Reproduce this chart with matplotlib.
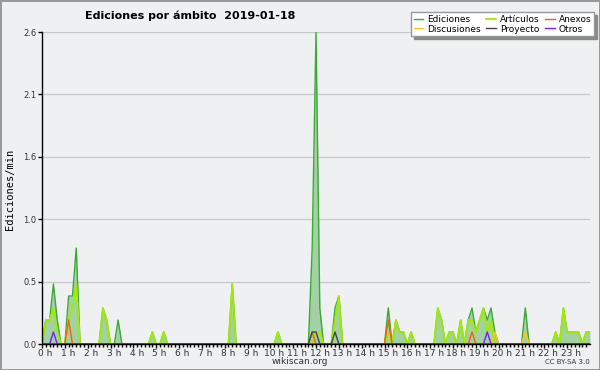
import numpy as np
import matplotlib
matplotlib.use("Agg")
from matplotlib import pyplot as plt
from matplotlib import transforms

# Ediciones/min in 10-minute slots, keyed by end of slot (HH:MM); missing slots are 0
ediciones = {
    "00:10": 0.2, "00:20": 0.2, "00:30": 0.5, "00:40": 0.2,
    "01:10": 0.4, "01:20": 0.4, "01:30": 0.8,
    "02:40": 0.3, "02:50": 0.2, "03:20": 0.2,
    "04:50": 0.1, "05:20": 0.1, "08:20": 0.5, "10:20": 0.1,
    "11:50": 0.8, "12:00": 2.6, "12:10": 0.3,
    "12:50": 0.3, "13:00": 0.4,
    "15:10": 0.3, "15:30": 0.2, "15:40": 0.1, "15:50": 0.1, "16:10": 0.1,
    "17:20": 0.3, "17:30": 0.2, "17:50": 0.1, "18:00": 0.1, "18:20": 0.2,
    "18:40": 0.2, "18:50": 0.3, "19:00": 0.1, "19:10": 0.2, "19:20": 0.3,
    "19:30": 0.2, "19:40": 0.3, "19:50": 0.1,
    "21:10": 0.3, "22:30": 0.1,
    "22:50": 0.3, "23:00": 0.1, "23:10": 0.1, "23:20": 0.1, "23:30": 0.1,
    "23:50": 0.1, "24:00": 0.1,
}
articulos = {
    "00:10": 0.2, "00:20": 0.2, "00:30": 0.3, "00:40": 0.1,
    "01:10": 0.2, "01:20": 0.3, "01:30": 0.5,
    "02:40": 0.3, "02:50": 0.2,
    "04:50": 0.1, "05:20": 0.1, "08:20": 0.5, "10:20": 0.1,
    "12:00": 0.1, "12:10": 0.1, "12:50": 0.2, "13:00": 0.4,
    "15:10": 0.1, "15:30": 0.2, "15:40": 0.1, "15:50": 0.1, "16:10": 0.1,
    "17:20": 0.3, "17:30": 0.2, "17:50": 0.1, "18:00": 0.1, "18:20": 0.2,
    "18:40": 0.2, "18:50": 0.2, "19:00": 0.1, "19:10": 0.2, "19:20": 0.3,
    "19:30": 0.1, "19:40": 0.2,
    "22:30": 0.1, "22:50": 0.3, "23:00": 0.1, "23:10": 0.1, "23:20": 0.1,
    "23:30": 0.1, "23:50": 0.1, "24:00": 0.1,
}
anexos = {"01:10": 0.2, "11:50": 0.1, "15:10": 0.2, "18:50": 0.1}
discusiones = {"19:50": 0.1, "21:10": 0.1}
proyecto = {"11:50": 0.1, "12:00": 0.1, "12:50": 0.1}
otros = {"00:30": 0.1, "19:30": 0.1}

hour_labels = ["%d h" % h for h in range(24)]
y_ticks = [0.0, 0.52, 1.04, 1.56, 2.08, 2.6]
y_labels = ["0.0", "0.5", "1.0", "1.6", "2.1", "2.6"]

slots = np.arange(0, 145)
x = slots / 6.0


def expand(d):
    y = np.zeros(len(slots))
    for k, v in d.items():
        h, m = k.split(":")
        y[(int(h) * 60 + int(m)) // 10] = v
    return y


bg = "#eff0f1"
fig = plt.figure(figsize=(6, 3.7), dpi=100, facecolor=bg)
fig.patch.set_edgecolor("#999999")
fig.patch.set_linewidth(2)
ax = fig.add_axes([42 / 600, 1 - 344 / 370, 548 / 600, 312 / 370])
ax.set_facecolor(bg)

ed = expand(ediciones)
ax.fill_between(x, ed, color="#a2d2a2", lw=0, zorder=2)
l_ed, = ax.plot(x, ed, color="#3aaa35", lw=1, zorder=3, label="Ediciones")
l_art, = ax.plot(x, expand(articulos), color="#a4ea00", lw=1.3, zorder=4, label="Artículos")
l_anx, = ax.plot(x, expand(anexos), color="#ff5a10", lw=1, zorder=5, label="Anexos")
l_dis, = ax.plot(x, expand(discusiones), color="#ffc61a", lw=1, zorder=5, label="Discusiones")
l_pro, = ax.plot(x, expand(proyecto), color="#444444", lw=1, zorder=5, label="Proyecto")
l_otr, = ax.plot(x, expand(otros), color="#7a1aff", lw=1, zorder=5, label="Otros")

ax.set_xlim(0, 24)
ax.set_ylim(0, 2.6)
for s in ["top", "right"]:
    ax.spines[s].set_visible(False)
for s in ["left", "bottom"]:
    ax.spines[s].set_zorder(6)
    ax.spines[s].set_linewidth(1)

ax.set_yticks(y_ticks)
ax.set_yticklabels(y_labels)
ax.grid(axis="y", color="#c8c8c8", lw=0.9, zorder=1)
ax.tick_params(axis="y", length=3, width=1, pad=1, labelsize=6, labelcolor="#333333")

ax.set_xticks(range(24))
ax.set_xticklabels(hour_labels)
ax.set_xticks(np.arange(0, 24, 1 / 6.0), minor=True)
ax.tick_params(axis="x", which="major", length=3, width=1, pad=0.5, labelsize=6.5,
               labelcolor="#333333")
ax.tick_params(axis="x", which="minor", length=2.5, width=1)
offset = transforms.ScaledTranslation(3.5 / 100, 0, fig.dpi_scale_trans)
for lab in ax.get_xticklabels():
    lab.set_transform(lab.get_transform() + offset)

fig.text(10 / 600, 1 - 189 / 370, "Ediciones/min", rotation=90, ha="center", va="center",
         family="DejaVu Sans Mono", fontsize=7.5)
fig.text(85 / 600, 1 - 16 / 370, "Ediciones por ámbito  2019-01-18", ha="left",
         va="center", fontsize=8, weight="bold")
fig.text(300 / 600, 1 - 361 / 370, "wikiscan.org", ha="center", va="center",
         fontsize=6.5, color="#333333")
fig.text(590 / 600, 1 - 362 / 370, "CC BY-SA 3.0", ha="right", va="center",
         fontsize=5, color="#333333")

handles = [l_ed, l_dis, l_art, l_pro, l_anx, l_otr]
leg = fig.legend(handles=handles, labels=[h.get_label() for h in handles], ncol=3,
                 loc="upper right", bbox_to_anchor=(594 / 600, 1 - 12 / 370),
                 fontsize=6.5, frameon=True, fancybox=False, framealpha=1,
                 edgecolor="#999999", facecolor="white",
                 shadow={"color": "#8a8a8a", "alpha": 1},
                 handlelength=1.1, handletextpad=0.45, columnspacing=0.55,
                 labelspacing=0.1, borderpad=0.3, borderaxespad=0)
leg.get_frame().set_linewidth(1)

fig.savefig("out.png", dpi=100, facecolor=bg, edgecolor=fig.patch.get_edgecolor())
